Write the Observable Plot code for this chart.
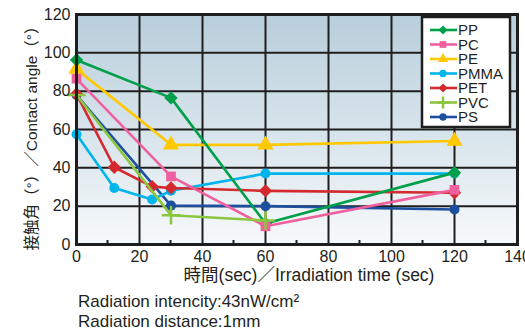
<!DOCTYPE html>
<html>
<head>
<meta charset="utf-8">
<script src="https://cdn.jsdelivr.net/npm/d3@7"></script>
<script src="https://cdn.jsdelivr.net/npm/@observablehq/plot@0.6"></script>
<style>
  html, body { margin: 0; padding: 0; background: #fff; }
  body { width: 525px; height: 334px; overflow: hidden; position: relative;
         font-family: "Liberation Sans", Arial, "Noto Sans CJK JP", sans-serif; color: #231f20; }
  #footer { position: absolute; left: 78px; top: 292px; font-size: 17px; line-height: 20px; white-space: nowrap; }
  #legend { position: absolute; left: 0; top: 0; }
</style>
</head>
<body>
<div id="chart"></div>
<div id="footer">
  <div>Radiation intencity:43nW/cm²</div>
  <div>Radiation distance:1mm</div>
</div>
<script>
// ---- data ----
const seriesNames = ["PP", "PC", "PE", "PMMA", "PET", "PVC", "PS"];
const seriesColors = ["#00a04a", "#f0609e", "#ffc800", "#00b4ec", "#d42a2f", "#8cc63f", "#1d4f9f"];
const seriesSymbols = ["diamond2", "square", "triangle", "circle", "diamond2", "plus", "circle"];

const ppTime = [0, 30, 60, 120];
const ppAngle = [96.3, 76.5, 11, 37.5];
const pcTime = [0, 30, 60, 120];
const pcAngle = [86.5, 35.5, 9.5, 28.5];
const peTime = [0, 30, 60, 120];
const peAngle = [91.5, 52, 52, 54];
const pmmaTime = [0, 12, 24, 30, 60, 120];
const pmmaAngle = [57.5, 29.5, 23.5, 28, 37, 37];
const petTime = [0, 12, 24, 30, 60, 120];
const petAngle = [78.5, 40.3, 30.2, 29.5, 28, 27];
const pvcTime = [0, 30, 60];
const pvcAngle = [78, 15.3, 12.5];
const psTime = [0, 30, 60, 120];
const psAngle = [78, 20.3, 20, 18.3];

const xTicks = [0, 20, 40, 60, 80, 100, 120, 140];
const xMinorTicks = [10, 30, 50, 70, 90, 110, 130];
const yTicks = [0, 20, 40, 60, 80, 100, 120];

const yTitle = "接触角（°）／Contact angle（°）";
const xTitle = "時間(sec)／Irradiation time (sec)";

// ---- build table ----
const raw = {
  PP: [ppTime, ppAngle], PC: [pcTime, pcAngle], PE: [peTime, peAngle],
  PMMA: [pmmaTime, pmmaAngle], PET: [petTime, petAngle], PVC: [pvcTime, pvcAngle], PS: [psTime, psAngle]
};
const drawOrder = ["PS", "PMMA", "PET", "PE", "PP", "PC", "PVC"];
const colorOf = Object.fromEntries(seriesNames.map((s, i) => [s, seriesColors[i]]));
const symbolOf = Object.fromEntries(seriesNames.map((s, i) => [s, seriesSymbols[i]]));

const marks = [];
marks.push(Plot.frame({fill: "url(#bggrad)", stroke: null}));
marks.push(Plot.gridX(xTicks, {stroke: "#1e1e1e", strokeOpacity: 1, strokeWidth: 2}));
marks.push(Plot.gridY(yTicks, {stroke: "#1e1e1e", strokeOpacity: 1, strokeWidth: 2}));
for (const s of drawOrder) {
  const [t, v] = raw[s];
  const data = t.map((x, i) => ({time: x, angle: v[i]}));
  marks.push(Plot.line(data, {x: "time", y: "angle", stroke: colorOf[s], strokeWidth: 2.6}));
  const sym = symbolOf[s];
  if (sym === "plus") {
    marks.push(Plot.dot(data, {x: "time", y: "angle", symbol: "plus", stroke: colorOf[s], strokeWidth: 2.5, r: 6}));
  } else {
    const r = sym === "diamond2" ? 6 : sym === "square" ? 5.5 : sym === "triangle" ? 6 : 5;
    marks.push(Plot.dot(data, {x: "time", y: "angle", symbol: sym, fill: colorOf[s], stroke: null, r}));
  }
}
marks.push(Plot.frame({stroke: "#1e1e1e", strokeWidth: 3}));
marks.push(Plot.axisX(xTicks, {tickSize: 0, tickPadding: 6, fontSize: 16, label: null, fill: "#231f20"}));
marks.push(Plot.axisY(yTicks, {tickSize: 0, tickPadding: 6, fontSize: 16, label: null, fill: "#231f20"}));
marks.push(Plot.text([yTitle], {frameAnchor: "left", textAnchor: "middle", rotate: -90, dx: -44, dy: 5, fontSize: 15.5, fill: "#231f20",
  fontFamily: "'Liberation Sans', 'Noto Sans CJK JP', sans-serif"}));
marks.push(Plot.text([xTitle], {frameAnchor: "bottom", textAnchor: "middle", dx: 12, dy: 36, fontSize: 17.5, fill: "#231f20",
  fontFamily: "'Liberation Sans', 'Noto Sans CJK JP', sans-serif"}));

const chart = Plot.plot({
  width: 525,
  height: 290,
  marginLeft: 76,
  marginRight: 8,
  marginTop: 14,
  marginBottom: 46,
  style: {fontFamily: "'Liberation Sans', Arial, 'Noto Sans CJK JP', sans-serif", overflow: "visible", background: "transparent"},
  x: {domain: [0, 140], axis: null},
  y: {domain: [0, 120], axis: null},
  marks
});

// gradient defs + minor ticks via scales
const svg = d3.select(chart);
const defs = svg.insert("defs", ":first-child");
const grad = defs.append("linearGradient").attr("id", "bggrad").attr("x1", 0).attr("y1", 0).attr("x2", 0).attr("y2", 1);
grad.append("stop").attr("offset", "0%").attr("stop-color", "#b8cedb");
grad.append("stop").attr("offset", "100%").attr("stop-color", "#f6f9fb");

const xs = chart.scale("x"), ys = chart.scale("y");
const y0 = ys.apply(0);
const mg = svg.append("g").attr("stroke", "#1e1e1e").attr("stroke-width", 2);
xMinorTicks.forEach(v => {
  mg.append("line").attr("x1", xs.apply(v)).attr("x2", xs.apply(v)).attr("y1", y0).attr("y2", y0 - 4);
});

document.getElementById("chart").appendChild(chart);

// ---- legend ----
const leg = d3.select("body").append("svg").attr("id", "legend").attr("width", 525).attr("height", 140);
const lx = 422, ly = 17, lw = 88, lh = 110;
leg.append("rect").attr("x", lx).attr("y", ly).attr("width", lw).attr("height", lh)
  .attr("fill", "#fff").attr("stroke", "#1e1e1e").attr("stroke-width", 2.5);
const symMap = {diamond2: d3.symbolSquare, square: d3.symbolSquare, triangle: d3.symbolTriangle, circle: d3.symbolCircle};
seriesNames.forEach((s, i) => {
  const cy = 30 + i * 14.5;
  const g = leg.append("g");
  g.append("line").attr("x1", 430).attr("x2", 457).attr("y1", cy).attr("y2", cy)
    .attr("stroke", colorOf[s]).attr("stroke-width", 2.6);
  const sym = symbolOf[s];
  const sz = sym === "diamond2" ? 40 : sym === "square" ? 45 : sym === "triangle" ? 45 : 42;
  if (sym === "plus") {
    g.append("path").attr("d", `M${443 - 6},${cy}H${443 + 6}M443,${cy - 6}V${cy + 6}`)
      .attr("stroke", colorOf[s]).attr("stroke-width", 2.5);
  } else {
    g.append("path").attr("d", d3.symbol(symMap[sym], sz)())
      .attr("transform", `translate(443,${cy})` + (sym === "diamond2" ? " rotate(45)" : ""))
      .attr("fill", colorOf[s]);
  }
  g.append("text").attr("x", 458).attr("y", cy).attr("dy", "0.36em")
    .attr("font-size", 15).attr("fill", "#231f20").text(s);
});
</script>
</body>
</html>
